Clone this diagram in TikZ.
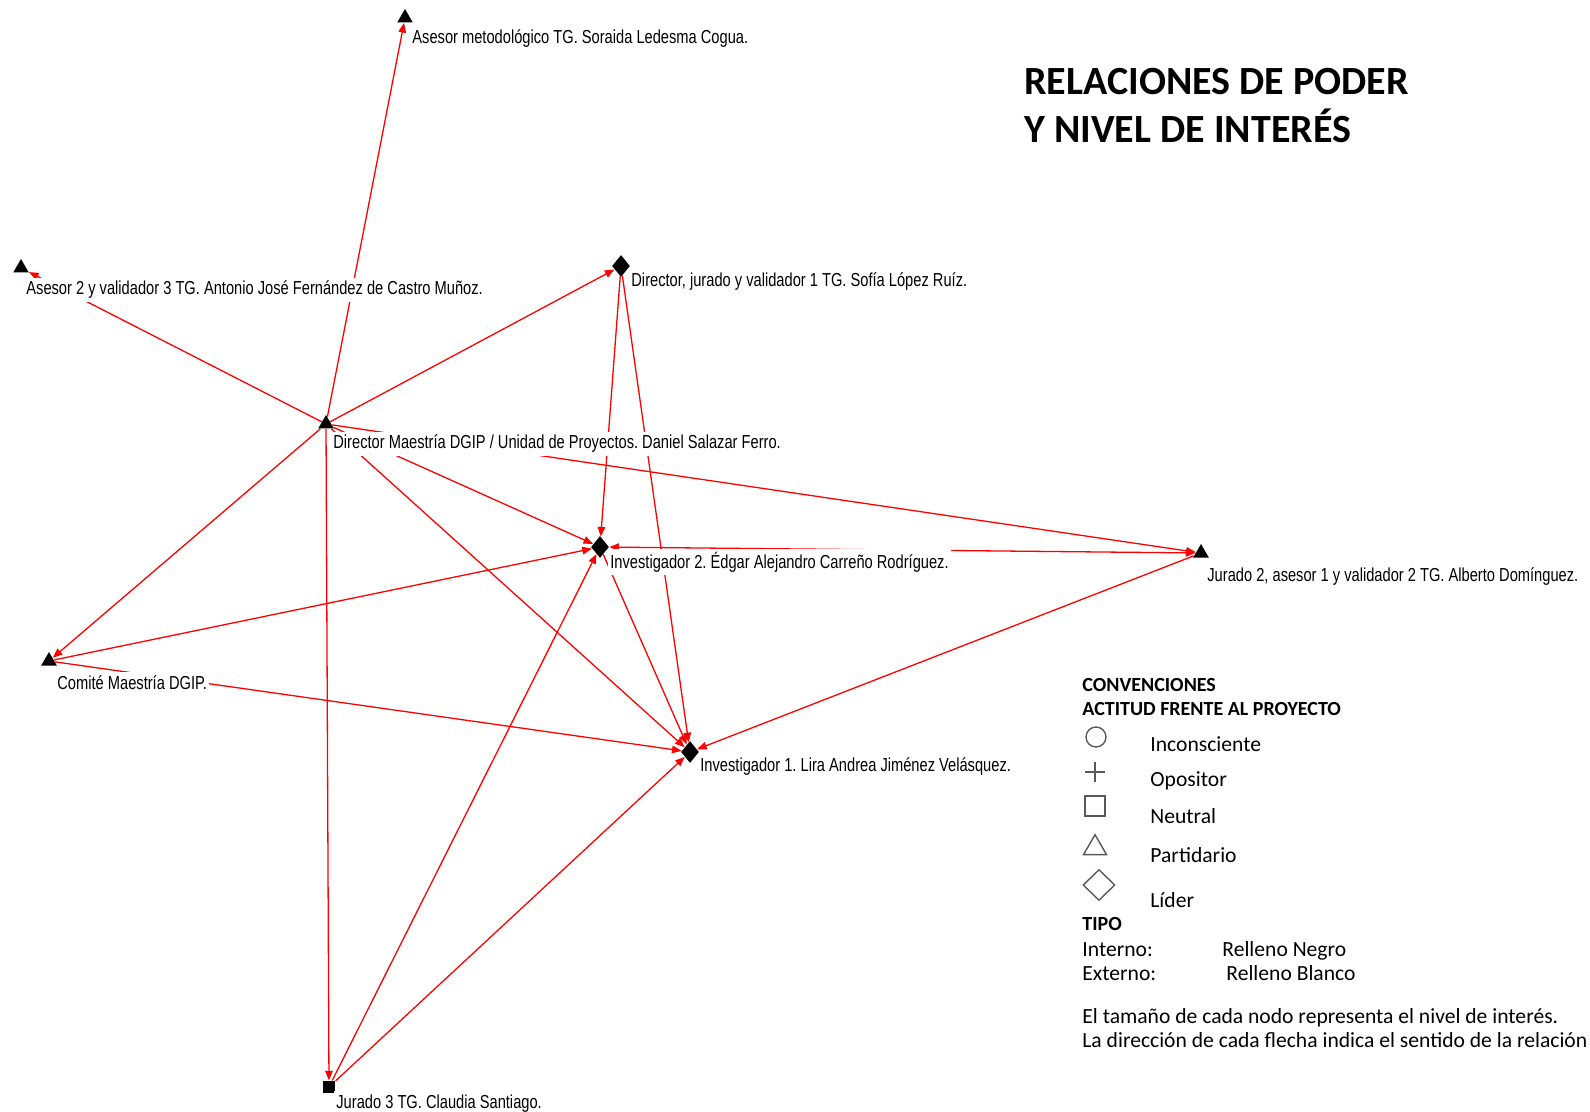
\documentclass[tikz,border=0pt]{standalone}
\usepackage{fontspec}
\usetikzlibrary{shapes.geometric,arrows.meta}
\newfontfamily\narrowfont[FakeStretch=0.78]{Liberation Sans}
\newfontfamily\calfont{Carlito}
\frenchspacing
\pgfdeclarelayer{back}
\pgfdeclarelayer{bg}
\pgfsetlayers{back,bg,main}
\tikzset{
  tri/.style={regular polygon, regular polygon sides=3, fill=black, inner sep=0pt, minimum size=9pt},
  dia/.style={diamond, fill=black, inner sep=0pt, minimum width=9pt, minimum height=11pt},
  sq/.style={rectangle, fill=black, inner sep=0pt, minimum size=6.2pt},
  lbl/.style={fill=white, inner xsep=1pt, inner ysep=1.5pt, anchor=base west, font=\narrowfont\fontsize{9.4}{11}\selectfont},
  rel/.style={draw=red, line width=0.65pt, -{Triangle[length=4.8pt,width=3.8pt]}},
  relboth/.style={draw=red, line width=0.65pt, {Triangle[length=4.8pt,width=3.8pt]}-{Triangle[length=4.8pt,width=3.8pt]}},
  ttl/.style={anchor=base west, inner sep=0pt, font=\calfont\bfseries\fontsize{20}{24}\selectfont},
  leg/.style={anchor=base west, inner sep=0pt, font=\calfont\fontsize{10.8}{12}\selectfont},
  legb/.style={anchor=base west, inner sep=0pt, font=\calfont\bfseries\fontsize{10}{12}\selectfont},
  sym/.style={draw=black!65, line width=0.7pt, fill=white, inner sep=0pt},
}
\begin{document}
\begin{tikzpicture}[x=0.5pt,y=-0.5pt]
\begin{pgfonlayer}{back}
\fill[white] (0,0) rectangle (1590,1112);
\end{pgfonlayer}
\useasboundingbox (0,0) rectangle (1590,1112);

% actor nodes
\node[tri] (am) at (405,18) {};
\node[tri] (a2) at (21,268) {};
\node[tri] (dm) at (326,424) {};
\node[dia] (ds) at (621,266) {};
\node[dia] (i2) at (600,547) {};
\node[dia] (i1) at (690,752) {};
\node[tri] (j2) at (1201,553) {};
\node[tri] (cm) at (49,661) {};
\node[sq]  (j3) at (329,1087) {};

% labels
\node[lbl] (lam) at (410,44) {Asesor metodológico TG. Soraida Ledesma Cogua.};
\node[lbl] (la2) at (24,295) {Asesor 2 y validador 3 TG. Antonio José Fernández de Castro Muñoz.};
\node[lbl] (ldm) at (331,449) {Director Maestría DGIP / Unidad de Proyectos. Daniel Salazar Ferro.};
\node[lbl] (lds) at (629,287) {Director, jurado y validador 1 TG. Sofía López Ruíz.};
\node[lbl] (li2) at (608,568) {Investigador 2. Édgar Alejandro Carreño Rodríguez.};
\node[lbl] (li1) at (698,771) {Investigador 1. Lira Andrea Jiménez Velásquez.};
\node[lbl] (lj2) at (1205,581) {Jurado 2, asesor 1 y validador 2 TG. Alberto Domínguez.};
\node[lbl] (lcm) at (55,689) {Comité Maestría DGIP.};
\node[lbl] (lj3) at (334,1108) {Jurado 3 TG. Claudia Santiago.};

% relations
\begin{pgfonlayer}{bg}
\draw[rel] (dm) -- (am);
\draw[rel] (dm) -- (a2);
\draw[rel] (dm) -- (ds);
\draw[rel] (dm) -- (cm);
\draw[rel] (dm) -- (j3);
\draw[rel] (dm) -- (i2);
\draw[rel] (dm) -- (i1);
\draw[rel] (dm) -- (j2);
\draw[rel] (ds) -- (i2);
\draw[rel] (ds) -- (i1);
\draw[rel] (i2) -- (i1);
\draw[relboth] (i2) -- (j2);
\draw[rel] (j2) -- (i1);
\draw[rel] (cm) -- (i2);
\draw[rel] (cm) -- (i1);
\draw[rel] (j3) -- (i2);
\draw[rel] (j3) -- (i1);
\end{pgfonlayer}

% title
\node[ttl] (t1) at (1024,95) {RELACIONES DE PODER};
\node[ttl] (t2) at (1024,143) {Y NIVEL DE INTERÉS};

% legend
\node[legb] (c1) at (1082,691) {CONVENCIONES};
\node[legb] (c2) at (1082,715) {ACTITUD FRENTE AL PROYECTO};
\node[sym, circle, minimum size=10pt] (s1) at (1096,737) {};
\node[leg] (l1) at (1150,751) {Inconsciente};
\coordinate (p0) at (1095,772);
\draw[draw=black!65, line width=0.7pt] ([xshift=-5.2pt]p0) -- ([xshift=5.2pt]p0) ([yshift=-5pt]p0) -- ([yshift=5pt]p0);
\node[leg] (l2) at (1150,786) {Opositor};
\node[sym, rectangle, minimum width=10pt, minimum height=10pt] (s3) at (1095,806) {};
\node[leg] (l3) at (1150,823) {Neutral};
\node[sym, regular polygon, regular polygon sides=3, minimum size=13.3pt] (s4) at (1095,848) {};
\node[leg] (l4) at (1150,862) {Partidario};
\node[sym, diamond, minimum width=16pt, minimum height=15.5pt] (s5) at (1099,885) {};
\node[leg] (l5) at (1150,907) {Líder};
\node[legb] (c3) at (1082,930) {TIPO};
\node[leg] (l6) at (1082,956) {Interno:};
\node[leg] (l7) at (1222,956) {Relleno Negro};
\node[leg] (l8) at (1082,980) {Externo:};
\node[leg] (l9) at (1226,980) {Relleno Blanco};
\node[leg] (l10) at (1082,1023) {El tamaño de cada nodo representa el nivel de interés.};
\node[leg] (l11) at (1082,1047) {La dirección de cada flecha indica el sentido de la relación};
\end{tikzpicture}
\end{document}
